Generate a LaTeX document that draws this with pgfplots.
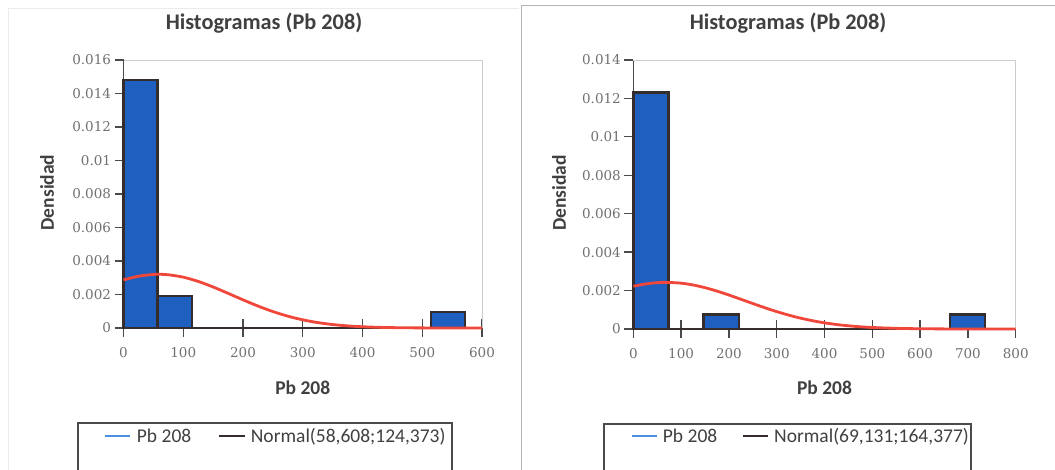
\documentclass[border=0pt]{standalone}
\usepackage{pgfplots}
\pgfplotsset{compat=1.18}
\usepackage{fontspec}
\setmainfont{Carlito}
\newfontfamily\tickfont{DejaVu Serif}

\definecolor{barblue}{HTML}{1F5FC0}
\definecolor{baredge}{HTML}{352C2C}
\definecolor{curvered}{HTML}{F0473B}
\definecolor{axisdark}{HTML}{4A4A4A}
\definecolor{framegray}{HTML}{C8CDD2}
\definecolor{panelgray}{HTML}{B4B4B4}
\definecolor{legblue}{HTML}{4A8FE0}
\definecolor{ticktext}{HTML}{707070}
\definecolor{titlegray}{HTML}{404040}

\pgfplotsset{
  histo/.style={
    scale only axis,
    axis x line*=bottom,
    axis y line*=left,
    axis line style={axisdark, line width=1.3bp},
    every tick/.style={axisdark, line width=1.3bp},
    xtick align=outside,
    ytick align=outside,
    major tick length=9bp,
    /pgf/number format/assume math mode=true,
    tick label style={font=\fontsize{13.5bp}{16bp}\selectfont\tickfont, text=ticktext},
    xticklabel style={yshift=-7bp},
    label style={font=\fontsize{19.5bp}{22bp}\selectfont\bfseries, text=titlegray},
    scaled y ticks=false,
    clip=false,
  },
  histbars/.style={ybar interval, fill=barblue, draw=baredge, line width=2.4bp},
  normalcurve/.style={curvered, line width=2.8bp, smooth},
}

\begin{document}
\begin{tikzpicture}[x=1bp,y=1bp]
\useasboundingbox (0,0) rectangle (1055,470);

% panel frames
\draw[black!8, line width=0.8bp] (8,0) -- (8,462) -- (519,462);
\draw[panelgray, line width=1bp] (521,0) -- (521,464) -- (1055,464);

% titles
\node[font=\fontsize{22.3bp}{25bp}\selectfont\bfseries, text=titlegray] at (264,447) {Histogramas (Pb 208)};
\node[font=\fontsize{22.3bp}{25bp}\selectfont\bfseries, text=titlegray] at (788,447) {Histogramas (Pb 208)};

% ---------- left histogram ----------
\begin{axis}[histo,
  at={(123.5bp,142bp)}, anchor=south west,
  width=358.5bp, height=268bp,
  xmin=0, xmax=600, ymin=0, ymax=0.016,
  xtick={0,100,200,300,400,500,600},
  xticklabels={0,100,200,300,400,500,600},
  ytick={0,0.002,0.004,0.006,0.008,0.01,0.012,0.014,0.016},
  yticklabels={0,0.002,0.004,0.006,0.008,0.01,0.012,0.014,0.016},
  extra x ticks={0,100,200,300,400,500,600},
  extra x tick labels={},
  extra x tick style={xtick align=inside},
  xlabel={Pb 208},
  xlabel style={at={(axis description cs:0.5,-0.224)}, anchor=center},
  ylabel={Densidad},
  ylabel style={at={(axis description cs:-0.2134,0.5056)}, anchor=center},
]
\draw[framegray, line width=0.8bp] (rel axis cs:0,1) -- (rel axis cs:1,1) -- (rel axis cs:1,0);
\addplot[histbars] coordinates {
  (0,0.0148) (57.2,0.0019) (114.4,0) (171.6,0) (228.8,0) (286,0)
  (343.2,0) (400.4,0) (457.6,0) (514.8,0.00095) (572,0)
};
\addplot[normalcurve] coordinates {
  (0,0.002870) (25,0.003092) (50,0.003199) (58.6,0.003207) (75,0.003179)
  (100,0.003034) (125,0.002781) (150,0.002448) (175,0.002070) (200,0.001681)
  (225,0.001311) (250,0.000981) (275,0.000706) (300,0.000488) (325,0.000323)
  (350,0.000206) (375,0.000126) (400,0.0000741) (425,0.0000418) (450,0.0000227)
  (475,0.0000118) (500,0.0000059) (550,0.0000013) (600,0.0000003)
};
\end{axis}

% ---------- right histogram ----------
\begin{axis}[histo,
  at={(633.3bp,141bp)}, anchor=south west,
  width=382.4bp, height=269bp,
  xmin=0, xmax=800, ymin=0, ymax=0.014,
  xtick={0,100,200,300,400,500,600,700,800},
  xticklabels={0,100,200,300,400,500,600,700,800},
  ytick={0,0.002,0.004,0.006,0.008,0.01,0.012,0.014},
  yticklabels={0,0.002,0.004,0.006,0.008,0.01,0.012,0.014},
  extra x ticks={0,100,200,300,400,500,600,700,800},
  extra x tick labels={},
  extra x tick style={xtick align=inside},
  xlabel={Pb 208},
  xlabel style={at={(axis description cs:0.5,-0.2193)}, anchor=center},
  ylabel={Densidad},
  ylabel style={at={(axis description cs:-0.1943,0.5056)}, anchor=center},
]
\draw[framegray, line width=0.8bp] (rel axis cs:0,1) -- (rel axis cs:1,1) -- (rel axis cs:1,0);
\addplot[histbars] coordinates {
  (0,0.0123) (73.6,0) (147.2,0.00076) (220.8,0) (294.4,0) (368,0)
  (441.6,0) (515.2,0) (588.8,0) (662.4,0.00076) (736,0)
};
\addplot[normalcurve] coordinates {
  (0,0.002222) (25,0.002341) (50,0.002411) (69.1,0.002427) (100,0.002385)
  (125,0.002291) (150,0.002150) (175,0.001972) (200,0.001768) (225,0.001548)
  (250,0.001325) (275,0.001108) (300,0.000905) (325,0.000723) (350,0.000564)
  (375,0.000430) (400,0.000320) (425,0.000233) (450,0.000166) (475,0.000115)
  (500,0.0000782) (550,0.0000336) (600,0.0000132) (650,0.0000047)
  (700,0.0000015) (750,0.0000004) (800,0.0000001)
};
\end{axis}

% legends
\begin{scope}[font=\fontsize{19.5bp}{22bp}\selectfont, text=titlegray]
\draw[axisdark, line width=1.8bp] (78,-30) -- (78,47) -- (452,47) -- (452,-30);
\draw[legblue, line width=1.8bp] (105,34) -- (130,34);
\node[anchor=base west, inner sep=0] at (136.7,27) {Pb 208};
\draw[baredge, line width=1.8bp] (219,34) -- (245,34);
\node[anchor=base west, inner sep=0] at (250.7,27) {Normal(58,608;124,373)};

\draw[axisdark, line width=1.8bp] (604,-30) -- (604,46) -- (970.7,46) -- (970.7,-30);
\draw[legblue, line width=1.8bp] (631.7,34) -- (656.7,34);
\node[anchor=base west, inner sep=0] at (662.7,27) {Pb 208};
\draw[baredge, line width=1.8bp] (742.7,34) -- (768.3,34);
\node[anchor=base west, inner sep=0] at (774,27) {Normal(69,131;164,377)};
\end{scope}
\end{tikzpicture}
\end{document}
